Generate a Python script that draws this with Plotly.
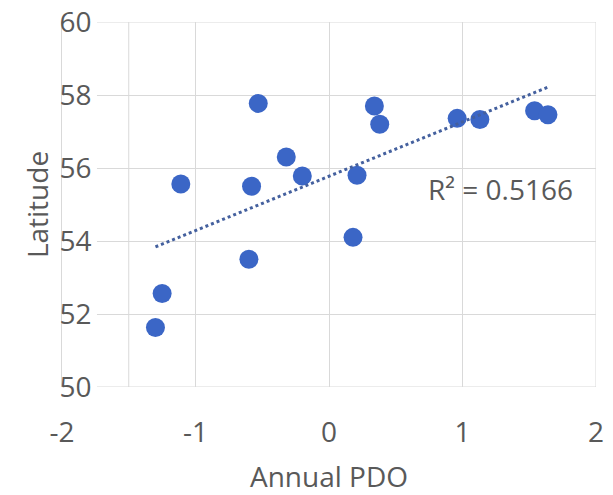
import numpy as np
import plotly.graph_objects as go

# Data
pdo = [-1.30, -1.25, -1.11, -0.60, -0.58, -0.53, -0.32, -0.20,
       0.18, 0.21, 0.34, 0.38, 0.96, 1.13, 1.54, 1.64]
latitude = [51.63, 52.56, 55.56, 53.50, 55.50, 57.77, 56.30, 55.78,
            54.10, 55.80, 57.70, 57.20, 57.36, 57.33, 57.57, 57.46]
x_ticks = [-2, -1, 0, 1, 2]
x_ticktext = ["-2", "-1", "0", "1", "2"]
y_ticks = [50, 52, 54, 56, 58, 60]
r2_text = "R² = 0.5166"

# Linear trendline through the data
slope, intercept = np.polyfit(pdo, latitude, 1)
tx = np.array([min(pdo), max(pdo)])
ty = slope * tx + intercept

FONT = "Open Sans"
GREY = "#595959"
GRID = "#D9D9D9"

fig = go.Figure()
fig.add_trace(go.Scatter(
    x=pdo, y=latitude, mode="markers",
    marker=dict(size=19, color="#3B66C6"),
    showlegend=False, hoverinfo="skip"))
fig.add_trace(go.Scatter(
    x=tx, y=ty, mode="lines",
    line=dict(color="#44609E", width=3, dash="dot"),
    showlegend=False, hoverinfo="skip"))

fig.add_annotation(x=0.73, y=55.42, xref="x", yref="y", text=r2_text,
                   showarrow=False, xanchor="left", yanchor="middle",
                   font=dict(family=FONT, size=28, color=GREY))

# white patch behind the inside y tick labels (hides gridlines there)
fig.add_shape(type="rect", xref="x", yref="y", x0=-2, x1=-1.738, y0=49.9, y1=60.1,
              fillcolor="white", line=dict(width=0), layer="between")
# extra vertical line at x = -1.5
fig.add_shape(type="line", xref="x", yref="y", x0=-1.5, x1=-1.5, y0=50, y1=60,
              line=dict(color=GRID, width=1), layer="between")
# border lines of the grid
for yv in (y_ticks[0], y_ticks[-1]):
    fig.add_shape(type="line", xref="x", yref="y", x0=-1.738, x1=2, y0=yv, y1=yv,
                  line=dict(color=GRID, width=1), layer="between")
fig.add_shape(type="line", xref="x", yref="y", x0=2, x1=2, y0=50, y1=60,
              line=dict(color=GRID, width=1), layer="between")

fig.update_layout(
    width=613, height=495,
    margin=dict(l=62, r=17, t=22, b=108, autoexpand=False),
    paper_bgcolor="white", plot_bgcolor="white",
    font=dict(family=FONT, size=28, color=GREY),
    xaxis=dict(range=[-2, 2], tickvals=x_ticks, ticktext=x_ticktext,
               showgrid=True, gridcolor=GRID, automargin=False,
               gridwidth=1, zeroline=False, showline=False,
               ticks="", ticklabelstandoff=26, ticklabeloverflow="allow",
               tickfont=dict(family=FONT, size=28, color=GREY),
               title=dict(text="Annual PDO", standoff=26,
                          font=dict(family=FONT, size=28, color=GREY))),
    yaxis=dict(range=[50, 60], tickvals=y_ticks, showgrid=True, gridcolor=GRID,
               gridwidth=1, zeroline=False, showline=True, linecolor=GRID,
               linewidth=1, ticks="", ticklabelposition="inside",
               ticklabeloverflow="allow", automargin=False,
               tickfont=dict(family=FONT, size=28, color=GREY),
               title=dict(text="Latitude", standoff=2,
                          font=dict(family=FONT, size=28, color=GREY))),
)

fig.write_html("out.html")
